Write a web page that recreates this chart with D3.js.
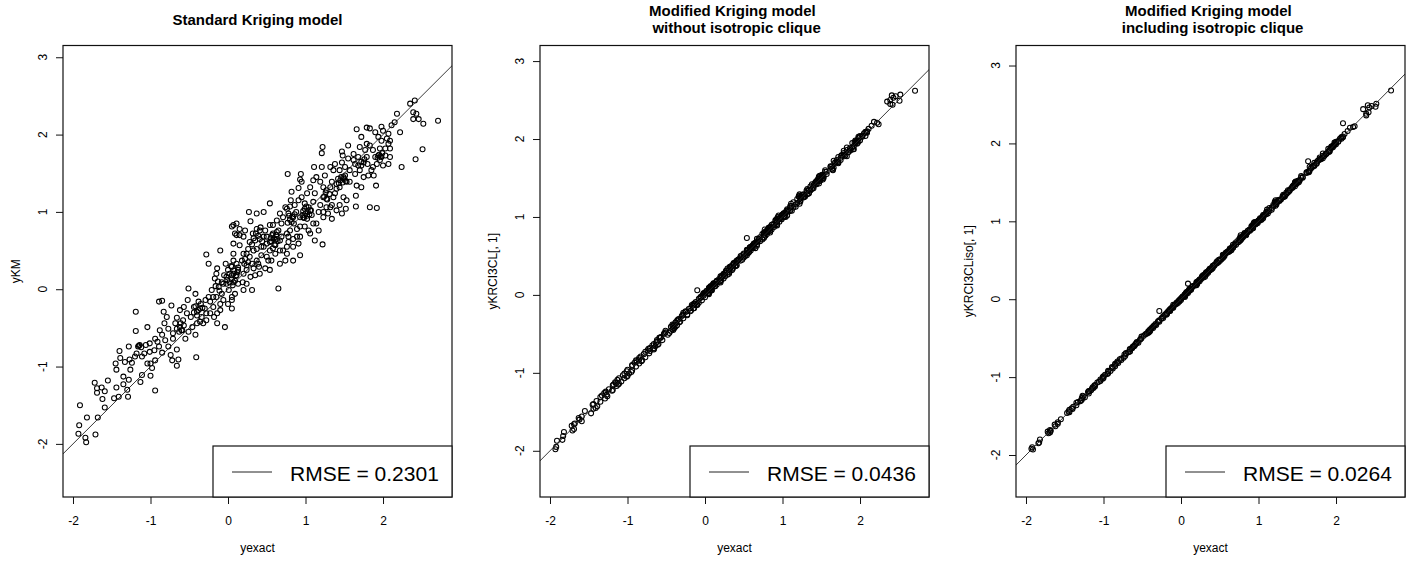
<!DOCTYPE html>
<html>
<head>
<meta charset="utf-8">
<script src="https://cdn.jsdelivr.net/npm/d3@7"></script>
<style>
  body { margin: 0; background: #fff; }
  svg text { font-family: "Liberation Sans", Arial, sans-serif; fill: #000; white-space: pre; }
</style>
</head>
<body>
<div id="chart"></div>
<script>
// Test set values (same yexact for each panel)
const yexact = [
  -1.93,-1.92,-1.91,-1.84,-1.83,-1.82,-1.71,-1.68,-1.72,-1.69,
  -1.63,-1.59,-1.69,-1.62,-1.55,-1.59,-1.47,-1.44,-1.35,-1.29,
  -1.30,-1.28,-1.35,-1.44,-1.45,-1.39,-1.40,-1.33,-1.26,-1.24,
  -1.20,-1.16,-1.14,-1.19,-1.19,-1.28,-1.13,-1.11,-1.11,-1.41,
  -1.27,-1.18,-1.04,-1.00,-0.94,-1.00,-0.94,-0.89,-0.85,-1.01,
  -0.95,-1.01,-0.91,-1.04,-0.72,-0.64,-0.66,-0.74,-0.77,-0.71,
  -0.77,-0.85,-0.82,-0.79,-0.83,-0.89,-0.85,-0.73,-0.66,-0.61,
  -0.59,-0.66,-0.55,-0.51,-0.46,-0.42,-0.41,-0.51,-0.52,-0.66,
  -0.71,-0.68,-0.58,-0.53,-0.48,-0.62,-0.57,-0.88,-0.81,-0.94,
  -1.06,-1.08,-0.98,-0.42,-0.44,-0.40,-0.36,-0.29,-0.23,-0.28,
  -0.25,-0.14,-0.10,-0.03,0.05,0.09,-0.14,-0.04,-0.14,-0.10,
  -0.18,0.01,0.05,-0.36,-0.32,-0.28,-0.30,-0.25,-0.17,-0.15,
  -0.08,0.00,0.05,-0.02,-0.02,0.05,0.07,-0.40,-0.23,-0.19,
  -0.10,-0.06,-0.21,-0.12,-0.06,-0.19,-0.34,-0.28,-0.38,-0.15,
  0.02,-0.05,0.05,0.00,0.07,0.11,0.15,0.15,0.20,0.21,
  0.24,0.29,0.31,0.24,0.19,0.13,0.11,0.07,0.31,0.37,
  0.40,0.33,0.28,0.32,0.29,0.37,0.46,0.27,0.41,0.46,
  0.46,0.50,0.48,0.54,0.56,0.54,0.54,0.37,0.58,0.50,
  0.54,0.11,0.07,0.15,0.20,0.24,0.37,0.43,0.39,0.20,
  0.11,0.07,0.07,0.20,0.09,0.05,0.33,0.41,0.52,0.61,
  0.41,0.35,0.22,0.26,0.18,0.13,0.35,0.43,0.48,0.54,
  0.50,0.61,0.63,0.65,0.67,0.69,0.67,0.71,0.76,0.78,
  0.80,0.76,0.77,0.84,0.93,0.91,0.84,0.89,0.93,0.93,
  0.84,0.86,0.91,0.95,0.95,1.02,1.04,1.02,1.04,0.94,
  0.93,0.91,0.82,0.81,0.80,1.06,1.06,1.06,0.97,0.93,
  0.76,0.63,0.71,0.78,0.74,0.69,0.76,0.78,0.67,0.74,
  0.89,0.65,0.82,0.99,1.08,0.58,0.84,0.99,0.67,1.12,
  1.22,1.14,1.17,1.10,1.19,1.23,1.27,1.23,1.27,1.19,
  1.14,1.11,1.21,1.22,1.21,1.32,1.36,1.34,1.38,1.34,
  1.29,1.34,1.40,1.44,1.47,1.52,1.49,1.44,1.42,1.49,
  1.53,1.51,1.47,1.48,1.55,1.47,1.55,1.17,1.10,1.23,
  1.32,1.40,1.53,1.32,1.23,1.10,1.44,1.51,1.57,1.12,
  1.27,1.36,1.40,1.25,1.57,1.38,1.62,1.64,1.64,1.66,
  1.65,1.65,1.72,1.75,1.70,1.75,1.79,1.83,1.85,1.91,
  1.83,1.92,1.94,1.96,1.98,1.92,2.00,2.03,2.07,2.09,
  2.07,1.98,1.94,1.90,1.83,1.79,1.72,1.66,1.79,2.07,
  2.00,2.09,2.18,2.15,2.11,2.22,2.24,2.35,2.41,2.39,
  2.39,2.43,2.46,2.52,2.51,2.42,2.71,1.88,1.81,1.62,
  2.09,1.87,2.05,1.98,1.70,1.77,1.87,1.96,2.03,1.90,
  1.68,1.72,
  // dense clusters
  0.56,0.59,0.62,0.60,0.57,0.64,0.58,0.63,0.55,0.61,
  0.97,1.00,1.03,0.99,1.05,0.96,1.01,0.98,1.07,1.02,
  1.45,1.48,1.50,1.43,1.46,1.52,1.95,1.97,1.93,1.99,
  0.02,0.05,0.08,0.10,0.04,0.12,-0.01,0.06,0.13,0.09,
  -0.42,-0.38,-0.35,-0.40,-0.33,-0.44,-0.62,-0.60,-0.63,-0.57,
  -1.15,-1.12,0.33,0.36,0.39,0.42,0.31,0.44,0.77,0.80,
  0.83,0.86,0.88,0.79,0.85,1.24,1.28,1.31,1.26,1.68,
  1.72,1.76,1.80,0.22,0.26,0.28,0.24,-0.16,-0.11,-0.08,
  -0.13
];

const yKM = [
  -1.87,-1.76,-1.50,-1.92,-1.98,-1.66,-1.88,-1.66,-1.21,-1.28,
  -1.27,-1.32,-1.34,-1.42,-1.18,-1.53,-1.41,-1.27,-1.23,-1.39,
  -1.30,-1.17,-1.13,-1.04,-0.96,-0.89,-0.80,-0.94,-1.04,-0.95,
  -0.87,-0.74,-0.72,-0.54,-0.29,-0.74,-1.20,-1.11,-0.87,-1.39,
  -0.91,-0.83,-0.49,-1.12,-1.31,-0.96,-0.92,-0.74,-0.82,-0.81,
  -0.79,-0.70,-0.68,-0.96,-0.92,-0.91,-0.99,-0.85,-0.74,-0.64,
  -0.51,-0.59,-0.44,-0.36,-0.29,-0.16,-0.15,-0.21,-0.37,-0.44,
  -0.53,-0.51,-0.64,-0.55,-0.49,-0.59,-0.88,0.01,-0.14,-0.78,
  -0.57,-0.44,-0.40,-0.31,-0.36,-0.27,-0.23,-0.53,-0.66,-0.64,
  -0.72,-0.83,-1.02,-0.06,-0.23,-0.34,-0.25,-0.14,-0.16,0.45,
  0.33,0.27,0.50,0.33,0.81,0.72,-0.44,-0.49,-0.31,-0.27,
  -0.36,-0.01,-0.10,-0.42,-0.44,-0.40,-0.25,-0.10,0.14,0.20,
  -0.06,-0.19,-0.25,0.16,0.07,0.29,0.37,-0.44,-0.31,-0.23,
  -0.19,-0.14,-0.01,0.03,0.07,-0.10,-0.36,-0.31,-0.16,-0.10,
  0.09,0.18,0.18,0.25,0.59,0.85,0.70,0.57,0.46,0.33,
  0.25,0.16,-0.01,0.07,0.09,0.07,0.18,0.09,0.33,0.37,
  0.29,0.50,0.61,0.72,0.88,0.98,1.00,1.00,0.76,0.68,
  0.55,0.42,0.27,0.25,0.37,1.11,0.83,0.78,0.72,0.68,
  0.61,0.70,0.83,0.78,0.68,0.46,0.52,0.44,0.33,0.20,
  0.33,0.46,0.20,-0.01,-0.06,-0.14,0.27,0.20,0.37,0.46,
  0.65,0.63,0.76,0.52,0.37,0.25,0.18,0.55,0.76,0.50,
  0.59,0.57,0.65,0.01,0.98,0.85,0.63,0.50,0.55,0.68,
  0.76,1.04,1.49,0.37,0.44,0.59,0.65,0.78,0.81,0.93,
  0.93,1.09,1.15,1.39,1.19,1.24,1.06,0.91,0.76,1.49,
  1.42,1.31,1.26,1.15,1.07,1.32,1.02,0.72,0.93,0.68,
  0.46,0.89,0.93,0.98,1.06,0.68,0.72,0.61,0.33,0.37,
  0.68,0.76,0.87,1.11,0.96,0.83,0.55,0.81,0.50,0.63,
  0.58,0.85,1.00,1.13,1.09,1.00,1.06,1.19,1.28,1.39,
  1.45,1.58,1.58,1.84,1.76,1.58,1.54,1.39,1.24,1.09,
  0.98,0.91,1.02,1.09,0.98,1.04,1.19,1.32,1.43,1.45,
  1.39,1.58,1.64,1.73,1.69,1.78,1.86,0.76,1.41,1.32,
  1.32,1.30,1.15,1.06,0.93,0.85,1.54,1.47,1.39,1.24,
  1.17,1.19,1.36,1.47,1.54,1.62,1.75,1.62,1.49,1.34,
  1.21,1.07,1.32,1.45,1.54,1.64,1.71,1.86,1.54,1.34,
  1.06,1.05,1.73,1.82,1.71,1.62,1.60,1.73,1.62,1.71,
  1.88,1.92,1.97,2.03,2.08,2.09,1.97,2.07,1.88,2.01,
  2.05,1.92,2.27,2.16,2.12,2.03,1.58,2.40,2.44,2.29,
  2.20,2.27,2.20,2.14,1.81,1.68,2.18,1.47,1.47,1.67,
  1.82,1.58,1.95,2.10,1.84,1.80,1.80,1.67,1.82,1.71,
  1.71,1.60,
  0.62,0.66,0.70,0.58,0.70,0.62,0.53,0.74,0.66,0.64,
  1.01,0.98,1.00,1.04,0.97,0.96,1.07,0.92,1.02,0.95,
  1.41,1.38,1.43,1.37,1.45,1.40,1.74,1.72,1.70,1.76,
  0.20,0.13,0.24,0.17,0.30,0.22,0.12,0.05,0.28,0.11,
  -0.22,-0.27,-0.19,-0.29,-0.24,-0.30,-0.49,-0.53,-0.55,-0.47,
  -0.73,-0.75,0.66,0.72,0.69,0.80,0.58,0.62,0.86,0.90,
  0.94,0.97,1.00,0.95,0.85,1.20,1.16,1.23,1.25,1.60,
  1.65,1.68,1.62,0.39,0.35,0.42,0.31,0.04,-0.02,0.09,
  0.10
];

const yKRCI3CL = [
  -1.98,-1.95,-1.87,-1.86,-1.81,-1.76,-1.74,-1.65,-1.68,-1.72,
  -1.58,-1.62,-1.66,-1.60,-1.49,-1.56,-1.52,-1.40,-1.37,-1.33,
  -1.26,-1.25,-1.31,-1.46,-1.41,-1.43,-1.36,-1.29,-1.30,-1.21,
  -1.23,-1.12,-1.17,-1.16,-1.22,-1.24,-1.09,-1.14,-1.07,-1.45,
  -1.28,-1.15,-1.01,-1.04,-0.97,-0.96,-0.90,-0.92,-0.83,-0.98,
  -0.99,-1.05,-0.87,-1.07,-0.75,-0.66,-0.70,-0.71,-0.73,-0.68,
  -0.80,-0.81,-0.85,-0.76,-0.79,-0.84,-0.88,-0.69,-0.63,-0.64,
  -0.55,-0.68,-0.58,-0.48,-0.49,-0.44,-0.45,-0.46,-0.49,-0.69,
  -0.72,-0.65,-0.55,-0.50,-0.51,-0.58,-0.54,-0.85,-0.84,-0.91,
  -1.03,-1.11,-1.01,-0.38,-0.41,-0.42,-0.33,-0.26,-0.25,-0.23,
  -0.21,-0.11,0.06,0.00,0.09,0.12,-0.17,-0.07,-0.12,-0.13,
  -0.20,0.03,0.02,-0.39,-0.34,-0.30,-0.27,-0.22,-0.13,-0.12,
  -0.10,-0.03,0.01,0.02,-0.01,0.08,0.10,-0.43,-0.26,-0.17,
  -0.12,-0.04,-0.18,-0.09,-0.03,-0.21,-0.31,-0.25,-0.35,-0.17,
  0.05,-0.02,0.07,0.03,0.11,0.15,0.18,0.13,0.22,0.19,
  0.27,0.26,0.27,0.21,0.17,0.11,0.13,0.05,0.33,0.39,
  0.37,0.36,0.31,0.36,0.34,0.41,0.50,0.31,0.44,0.48,
  0.44,0.48,0.45,0.51,0.54,0.58,0.73,0.40,0.61,0.53,
  0.56,0.14,0.10,0.17,0.24,0.26,0.39,0.45,0.37,0.18,
  0.14,0.09,0.06,0.16,0.06,0.03,0.31,0.38,0.50,0.60,
  0.43,0.38,0.25,0.28,0.20,0.14,0.32,0.45,0.51,0.53,
  0.52,0.62,0.65,0.60,0.72,0.72,0.68,0.69,0.74,0.79,
  0.81,0.80,0.84,0.80,0.89,0.89,0.83,0.90,0.94,0.95,
  0.87,0.90,0.95,1.02,0.98,1.05,1.05,1.00,1.00,1.00,
  0.98,0.96,0.86,0.84,0.82,1.10,1.07,1.02,0.98,0.91,
  0.73,0.66,0.74,0.81,0.78,0.70,0.77,0.76,0.63,0.71,
  0.87,0.67,0.84,1.02,1.07,0.61,0.82,0.97,0.65,1.08,
  1.17,1.12,1.16,1.12,1.18,1.21,1.25,1.24,1.29,1.23,
  1.19,1.17,1.26,1.29,1.27,1.36,1.39,1.35,1.36,1.31,
  1.26,1.30,1.37,1.42,1.43,1.48,1.47,1.43,1.44,1.50,
  1.52,1.54,1.51,1.53,1.58,1.52,1.60,1.13,1.14,1.25,
  1.33,1.39,1.50,1.29,1.20,1.08,1.46,1.52,1.55,1.14,
  1.26,1.34,1.41,1.28,1.58,1.42,1.65,1.65,1.62,1.63,
  1.61,1.60,1.69,1.73,1.70,1.76,1.80,1.86,1.83,1.87,
  1.78,1.87,1.95,1.98,1.97,1.91,1.98,2.03,2.04,2.08,
  2.09,2.01,1.98,1.95,1.89,1.85,1.77,1.72,1.82,2.09,
  2.04,2.10,2.22,2.17,2.13,2.21,2.19,2.48,2.56,2.50,
  2.45,2.53,2.55,2.57,2.49,2.44,2.62,1.86,1.79,1.64,
  2.09,1.85,2.07,2.03,1.73,1.79,1.88,1.94,2.04,1.89,
  1.70,1.71,
  0.58,0.57,0.64,0.62,0.55,0.66,0.60,0.61,0.58,0.63,
  0.99,1.03,1.01,1.02,1.08,0.94,1.04,0.97,1.09,1.04,
  1.47,1.46,1.53,1.45,1.49,1.50,1.97,1.95,1.96,2.02,
  0.05,0.07,0.06,0.13,0.02,0.15,0.02,0.09,0.11,0.11,
  -0.40,-0.41,-0.32,-0.38,-0.35,-0.46,-0.60,-0.63,-0.61,-0.55,
  -1.13,-1.15,0.35,0.34,0.42,0.44,0.29,0.46,0.79,0.78,
  0.86,0.84,0.91,0.82,0.87,1.26,1.26,1.34,1.28,1.70,
  1.70,1.79,1.78,0.24,0.24,0.31,0.26,-0.14,-0.13,-0.05,
  -0.11
];

const yKRCI3CLiso = [
  -1.92,-1.90,-1.93,-1.85,-1.84,-1.80,-1.72,-1.69,-1.70,-1.68,
  -1.61,-1.60,-1.71,-1.63,-1.54,-1.58,-1.46,-1.45,-1.33,-1.30,
  -1.31,-1.27,-1.36,-1.42,-1.44,-1.38,-1.41,-1.32,-1.25,-1.26,
  -1.19,-1.17,-1.13,-1.21,-1.18,-1.29,-1.14,-1.10,-1.12,-1.40,
  -1.24,-1.18,-1.05,-0.99,-0.95,-1.01,-0.93,-0.88,-0.86,-1.00,
  -0.96,-1.02,-0.92,-1.03,-0.73,-0.63,-0.67,-0.75,-0.78,-0.70,
  -0.76,-0.84,-0.80,-0.77,-0.82,-0.87,-0.83,-0.71,-0.64,-0.60,
  -0.58,-0.65,-0.56,-0.50,-0.45,-0.43,-0.42,-0.48,-0.51,-0.67,
  -0.69,-0.68,-0.57,-0.52,-0.47,-0.61,-0.55,-0.89,-0.82,-0.92,
  -1.06,-1.07,-0.97,-0.41,-0.44,-0.39,-0.35,-0.28,-0.22,-0.15,
  -0.24,-0.13,-0.07,-0.02,0.06,0.20,-0.15,-0.05,-0.14,-0.09,
  -0.19,0.02,0.04,-0.37,-0.33,-0.27,-0.29,-0.25,-0.16,-0.14,
  -0.07,-0.01,0.03,-0.01,-0.03,0.06,0.08,-0.41,-0.24,-0.20,
  -0.11,-0.06,-0.20,-0.11,-0.05,-0.18,-0.34,-0.29,-0.37,-0.15,
  0.03,-0.04,0.05,0.01,0.09,0.13,0.16,0.17,0.21,0.20,
  0.25,0.28,0.29,0.23,0.18,0.12,0.11,0.07,0.32,0.38,
  0.39,0.35,0.30,0.34,0.31,0.39,0.48,0.29,0.43,0.47,
  0.46,0.49,0.47,0.53,0.55,0.57,0.56,0.38,0.60,0.51,
  0.54,0.12,0.09,0.16,0.22,0.25,0.37,0.44,0.38,0.19,
  0.13,0.08,0.07,0.18,0.08,0.04,0.32,0.40,0.51,0.61,
  0.42,0.36,0.23,0.27,0.18,0.13,0.34,0.43,0.50,0.54,
  0.51,0.61,0.64,0.63,0.70,0.71,0.67,0.70,0.75,0.78,
  0.80,0.79,0.82,0.82,0.91,0.90,0.84,0.89,0.93,0.94,
  0.85,0.88,0.93,0.99,0.97,1.04,1.04,1.01,1.02,0.98,
  0.96,0.94,0.85,0.83,0.81,1.08,1.06,1.04,0.97,0.92,
  0.75,0.65,0.73,0.80,0.76,0.69,0.76,0.77,0.66,0.73,
  0.88,0.66,0.83,1.00,1.08,0.59,0.83,0.98,0.66,1.10,
  1.20,1.13,1.17,1.11,1.19,1.22,1.26,1.23,1.27,1.21,
  1.17,1.15,1.24,1.27,1.25,1.34,1.37,1.34,1.37,1.33,
  1.28,1.32,1.39,1.43,1.45,1.50,1.48,1.44,1.42,1.49,
  1.53,1.52,1.49,1.51,1.56,1.50,1.58,1.15,1.12,1.24,
  1.32,1.40,1.52,1.31,1.22,1.09,1.45,1.51,1.56,1.13,
  1.27,1.35,1.40,1.27,1.57,1.40,1.63,1.64,1.77,1.65,
  1.64,1.63,1.71,1.74,1.70,1.75,1.79,1.84,1.84,1.89,
  1.81,1.90,1.94,1.97,1.98,1.92,1.99,2.02,2.06,2.08,
  2.08,1.99,1.96,1.93,1.87,1.82,1.75,1.70,1.80,2.08,
  2.02,2.26,2.20,2.16,2.12,2.21,2.22,2.44,2.49,2.38,
  2.36,2.46,2.48,2.51,2.47,2.40,2.68,1.87,1.80,1.62,
  2.09,1.86,2.06,2.01,1.71,1.78,1.87,1.95,2.03,1.90,
  1.68,1.72,
  0.57,0.60,0.61,0.61,0.58,0.64,0.59,0.62,0.56,0.62,
  0.98,1.01,1.03,1.00,1.06,0.96,1.02,0.98,1.08,1.03,
  1.46,1.48,1.51,1.43,1.47,1.52,1.96,1.97,1.94,2.00,
  0.03,0.05,0.09,0.11,0.05,0.13,0.00,0.07,0.14,0.10,
  -0.41,-0.38,-0.34,-0.40,-0.32,-0.44,-0.61,-0.60,-0.63,-0.56,
  -1.15,-1.11,0.34,0.37,0.40,0.43,0.31,0.45,0.78,0.80,
  0.84,0.86,0.89,0.80,0.85,1.25,1.28,1.32,1.27,1.69,
  1.72,1.77,1.80,0.23,0.26,0.29,0.25,-0.15,-0.11,-0.07,
  -0.12
];

const panelTitles = [
  ["Standard Kriging model"],
  ["Modified Kriging model ", " without isotropic clique"],
  ["Modified Kriging model ", " including isotropic clique"]
];
const yLabels = ["yKM", "yKRCI3CL[, 1]", "yKRCI3CLiso[, 1]"];
const rmseLabels = ["RMSE = 0.2301", "RMSE = 0.0436", "RMSE = 0.0264"];
const xLimits = [-2.129, 2.89];
const yLimits = [[-2.687, 3.152], [-2.593, 3.20], [-2.539, 3.257]];
const xTicks = [-2, -1, 0, 1, 2];
const yTicks = [-2, -1, 0, 1, 2, 3];

const width = 1415;
const height = 561;

const svg = d3.select("#chart")
  .append("svg")
  .attr("width", width)
  .attr("height", height);

// Draw one scatter panel
function drawPanel(i, yValues) {
  const left = [63, 540, 1016][i];
  const plotW = 389;
  const top = 45.5;
  const bottom = 497;
  const right = left + plotW;

  const x = d3.scaleLinear().domain(xLimits).range([left, right]);
  const y = d3.scaleLinear().domain(yLimits[i]).range([bottom, top]);

  const g = svg.append("g").attr("class", "panel");

  // clip to plot region
  const clipId = "clip" + i;
  svg.append("clipPath").attr("id", clipId)
    .append("rect")
    .attr("x", left).attr("y", top)
    .attr("width", plotW).attr("height", bottom - top);

  const points = yexact.map((v, j) => ({ x: v, y: yValues[j] }));

  g.append("g")
    .attr("clip-path", `url(#${clipId})`)
    .selectAll("circle")
    .data(points)
    .enter()
    .append("circle")
    .attr("cx", d => x(d.x))
    .attr("cy", d => y(d.y))
    .attr("r", 2.5)
    .style("fill", "none")
    .style("stroke", "#000")
    .style("stroke-width", 1.05);

  // y = x reference line
  const lo = Math.min(xLimits[0], yLimits[i][0]);
  const hi = Math.max(xLimits[1], yLimits[i][1]);
  g.append("line")
    .attr("clip-path", `url(#${clipId})`)
    .attr("x1", x(lo)).attr("y1", y(lo))
    .attr("x2", x(hi)).attr("y2", y(hi))
    .style("stroke", "#222")
    .style("stroke-width", 0.9);

  // box
  g.append("rect")
    .attr("x", left).attr("y", top)
    .attr("width", plotW).attr("height", bottom - top)
    .style("fill", "none")
    .style("stroke", "#111")
    .style("stroke-width", 1.2);

  // x axis
  const xAxis = g.append("g")
    .attr("transform", `translate(0,${bottom})`)
    .call(d3.axisBottom(x).tickValues(xTicks).tickSize(7).tickPadding(12).tickFormat(d => String(d)));
  xAxis.select(".domain").remove();
  xAxis.selectAll("line").style("stroke", "#111");
  xAxis.selectAll("text")
    .style("font-size", "12px")
    .style("font-family", "'Liberation Sans', Arial, sans-serif");

  // y axis ticks, labels rotated like R
  const yAxis = g.append("g")
    .attr("transform", `translate(${left},0)`)
    .call(d3.axisLeft(y).tickValues(yTicks).tickSize(7).tickFormat(""));
  yAxis.select(".domain").remove();
  yAxis.selectAll("line").style("stroke", "#111");

  g.selectAll(".ylab")
    .data(yTicks)
    .enter()
    .append("text")
    .attr("class", "ylab")
    .attr("transform", d => `translate(${left - 16},${y(d)}) rotate(-90)`)
    .attr("text-anchor", "middle")
    .style("font-size", "12px")
    .text(d => String(d));

  // axis titles
  g.append("text")
    .attr("x", (left + right) / 2)
    .attr("y", 552)
    .attr("text-anchor", "middle")
    .style("font-size", "12px")
    .text("yexact");

  g.append("text")
    .attr("transform", `translate(${left - 43},${(top + bottom) / 2}) rotate(-90)`)
    .attr("text-anchor", "middle")
    .style("font-size", "12px")
    .text(yLabels[i]);

  // title
  const lines = panelTitles[i];
  lines.forEach((t, k) => {
    g.append("text")
      .attr("x", (left + right) / 2)
      .attr("y", lines.length === 1 ? 25 : 15.5 + k * 17)
      .attr("text-anchor", "middle")
      .style("font-size", "15px")
      .style("font-weight", "bold")
      .text(t);
  });

  // legend bottom right
  const legW = 239, legH = 51;
  const legX = right - legW, legY = bottom - legH;
  g.append("rect")
    .attr("x", legX).attr("y", legY)
    .attr("width", legW).attr("height", legH)
    .style("fill", "#fff")
    .style("stroke", "#111")
    .style("stroke-width", 1.2);
  g.append("line")
    .attr("x1", legX + 19).attr("x2", legX + 59)
    .attr("y1", legY + 26).attr("y2", legY + 26)
    .style("stroke", "#222")
    .style("stroke-width", 1);
  g.append("text")
    .attr("x", legX + 77)
    .attr("y", legY + 35)
    .style("font-size", "21px")
    .text(rmseLabels[i]);
}

drawPanel(0, yKM);
drawPanel(1, yKRCI3CL);
drawPanel(2, yKRCI3CLiso);
</script>
</body>
</html>
